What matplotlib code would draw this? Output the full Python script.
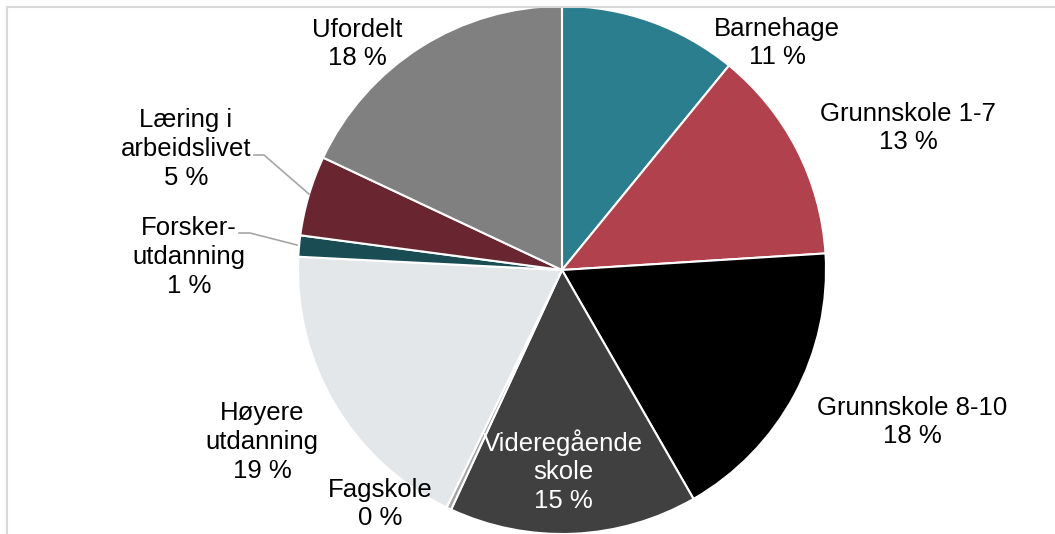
import matplotlib
matplotlib.use("Agg")
import matplotlib.pyplot as plt
from matplotlib.patches import Rectangle

categories = ["Barnehage", "Grunnskole 1-7", "Grunnskole 8-10", "Videregående\nskole",
              "Fagskole", "Høyere\nutdanning", "Forsker-\nutdanning", "Læring i\narbeidslivet", "Ufordelt"]
values = [10.9, 13.1, 17.7, 15.2, 0.3, 18.6, 1.3, 4.9, 18.0]
colors = ["#2a7e8d", "#b2414e", "#000000", "#404040", "#a6a6a6",
          "#e4e7ea", "#1a4c54", "#692630", "#808080"]
text_colors = ["#000000"] * 3 + ["#ffffff"] + ["#000000"] * 5

W, H = 1055, 534
CX, CY, R = 562, 270, 264

plt.rcParams['font.family'] = ['Liberation Sans', 'DejaVu Sans']
fig = plt.figure(figsize=(W / 100, H / 100), dpi=100)
ax = fig.add_axes([0, 0, 1, 1])
ax.set_xlim(-CX / R, (W - CX) / R)
ax.set_ylim((CY - H) / R, CY / R)
ax.set_aspect('equal')
ax.axis('off')

ax.pie(values, colors=colors, startangle=90, counterclock=False, radius=1.0,
       center=(0, 0), wedgeprops=dict(edgecolor='white', linewidth=1.5), frame=False)
ax.set_xlim(-CX / R, (W - CX) / R)
ax.set_ylim((CY - H) / R, CY / R)

def px(x, y):
    return (x - CX) / R, (CY - y) / R

# label block centres (pixels)
label_pos = [(777, 43), (908, 128), (912, 422), (563, 471), (380, 504),
             (262, 442), (189, 257), (186, 149), (357, 44)]

for cat, v, (lx, ly), tc in zip(categories, values, label_pos, text_colors):
    x, y = px(lx, ly)
    ax.text(x, y, f"{cat}\n{round(v):.0f} %", ha='center', va='center',
            multialignment='center', fontsize=18.5, color=tc, linespacing=1.25)

# leader lines
for pts in [[(254, 155), (264, 155), (309, 194)],
            [(239, 233), (250, 233), (297, 245)]]:
    xs, ys = zip(*[px(a, b) for a, b in pts])
    ax.plot(xs, ys, color='#a6a6a6', linewidth=1.2)

fig.patches.append(Rectangle((7 / W, -0.1), 1.2, 1 - 7 / H + 0.1, transform=fig.transFigure,
                             fill=False, edgecolor='#d9d9d9', linewidth=1.5, zorder=10))

fig.savefig("out.png", dpi=100)
